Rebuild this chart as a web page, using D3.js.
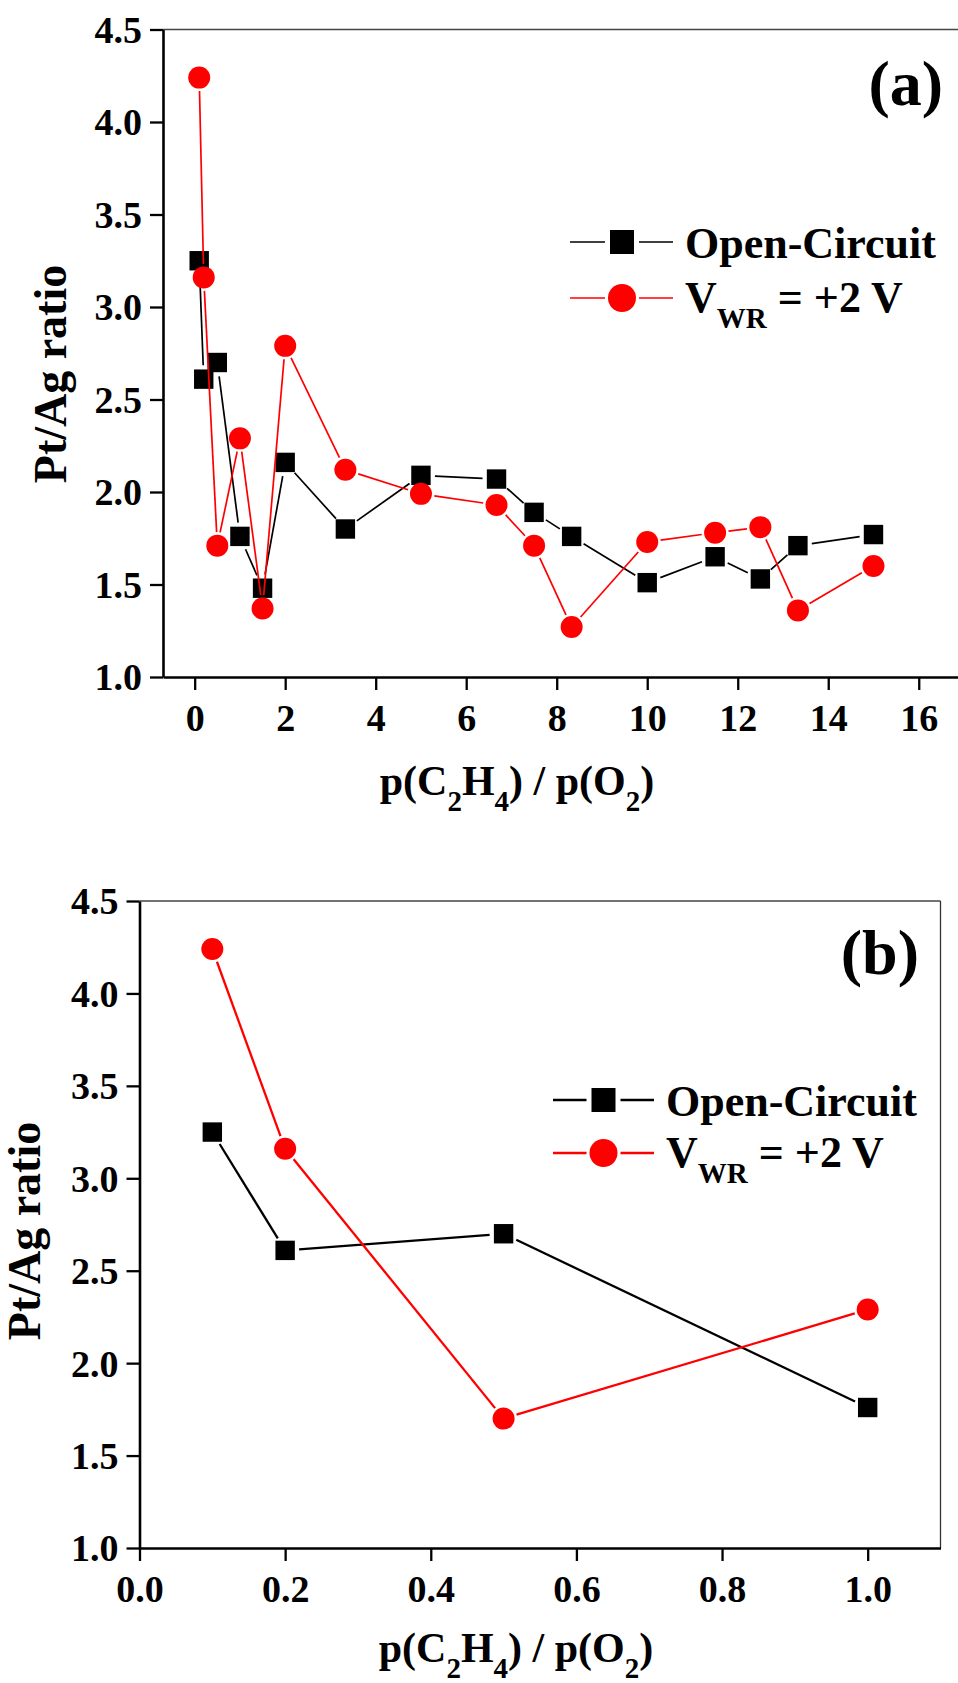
<!DOCTYPE html>
<html>
<head>
<meta charset="utf-8">
<script src="https://cdn.jsdelivr.net/npm/d3@7"></script>
<style>
  html, body { margin: 0; padding: 0; background: #fff; }
  svg { display: block; }
  text { font-family: "Liberation Serif", "Times New Roman", serif; font-weight: bold; fill: #000; }
</style>
</head>
<body>
<svg id="chart" width="958" height="1683"></svg>
<script>
// Pt/Ag surface ratio versus ethylene / oxygen partial pressure ratio
const ratioA = [0.1, 0.2, 0.5, 1, 1.5, 2, 3.33, 5, 6.67, 7.5, 8.33, 10, 11.5, 12.5, 13.33, 15];
const openCircuitA = [3.25, 2.61, 2.70, 1.76, 1.48, 2.16, 1.80, 2.09, 2.07, 1.89, 1.76, 1.51, 1.65, 1.53, 1.71, 1.77];
const polarizedA = [4.24, 3.16, 1.71, 2.29, 1.37, 2.79, 2.12, 1.99, 1.93, 1.71, 1.27, 1.73, 1.78, 1.81, 1.36, 1.60];

// low-ratio detail (panel b)
const ratioB = [0.1, 0.2, 0.5, 1.0];
const openCircuitB = [3.25, 2.61, 2.70, 1.76];
const polarizedB = [4.24, 3.16, 1.70, 2.29];

const yTicks = [1.0, 1.5, 2.0, 2.5, 3.0, 3.5, 4.0, 4.5];
const xTicksA = [0, 2, 4, 6, 8, 10, 12, 14, 16];
const xTicksB = [0.0, 0.2, 0.4, 0.6, 0.8, 1.0];

const svg = d3.select("#chart");

function drawPanel(cfg) {
  const g = svg.append("g");
  const x = d3.scaleLinear().domain(cfg.xDomain).range(cfg.xRange);
  const y = d3.scaleLinear().domain([1, 4.5]).range(cfg.yRange);
  const [x0, x1] = cfg.xRange;
  const [yb, yt] = cfg.yRange;

  // thin frame on top (and right when visible)
  g.append("line").attr("x1", x0).attr("x2", Math.min(x1, 958)).attr("y1", yt).attr("y2", yt)
    .attr("stroke", "#444").attr("stroke-width", 1.3);
  if (x1 <= 958) {
    g.append("line").attr("x1", x1).attr("x2", x1).attr("y1", yt).attr("y2", yb)
      .attr("stroke", "#333").attr("stroke-width", 1.3);
  }

  const xAxis = g.append("g").attr("transform", `translate(0,${yb})`)
    .call(d3.axisBottom(x).tickValues(cfg.xTicks).tickFormat(cfg.xFormat).tickSize(13).tickSizeOuter(0));
  const yAxis = g.append("g").attr("transform", `translate(${x0},0)`)
    .call(d3.axisLeft(y).tickValues(yTicks).tickFormat(d3.format(".1f")).tickSize(13).tickSizeOuter(0));

  [xAxis, yAxis].forEach(a => {
    a.select(".domain").attr("stroke", "#000").attr("stroke-width", 2.6);
    a.selectAll(".tick line").attr("stroke", "#000").attr("stroke-width", 2.3);
    a.selectAll(".tick text").attr("fill", "#000")
      .style("font-family", '"Liberation Serif", "Times New Roman", serif')
      .style("font-weight", "bold").style("font-size", "38px");
  });
  xAxis.selectAll(".tick text").attr("y", 54).attr("dy", 0);
  yAxis.selectAll(".tick text").attr("x", -21).attr("dy", "0.34em");

  // axis titles
  const xt = g.append("text").attr("x", cfg.xTitle[0]).attr("y", cfg.xTitle[1])
    .attr("text-anchor", "middle").style("font-size", "42px");
  xt.append("tspan").text("p(C");
  xt.append("tspan").text("2").style("font-size", "29px").attr("dy", 16);
  xt.append("tspan").text("H").attr("dy", -16);
  xt.append("tspan").text("4").style("font-size", "29px").attr("dy", 16);
  xt.append("tspan").text(") / p(O").attr("dy", -16);
  xt.append("tspan").text("2").style("font-size", "29px").attr("dy", 16);
  xt.append("tspan").text(")").attr("dy", -16);

  g.append("text").attr("transform", `translate(${cfg.yTitle[0]},${cfg.yTitle[1]}) rotate(-90)`)
    .attr("text-anchor", "middle").style("font-size", "46px").text("Pt/Ag ratio");

  // panel tag
  g.append("text").attr("x", cfg.tag[0]).attr("y", cfg.tag[1]).attr("text-anchor", "end")
    .style("font-size", "64px").text(cfg.tagText);

  // series: segments broken short of each marker
  function series(xs, ys, color, shape, gap) {
    const pts = xs.map((v, i) => [x(v), y(ys[i])]);
    for (let i = 0; i < pts.length - 1; i++) {
      const [ax, ay] = pts[i], [bx, by] = pts[i + 1];
      const dx = bx - ax, dy = by - ay, len = Math.hypot(dx, dy);
      if (len <= 2 * gap) continue;
      const ux = dx / len, uy = dy / len;
      g.append("line")
        .attr("x1", ax + ux * gap).attr("y1", ay + uy * gap)
        .attr("x2", bx - ux * gap).attr("y2", by - uy * gap)
        .attr("stroke", color).attr("stroke-width", cfg.lineWidth);
    }
    pts.forEach(([px, py]) => {
      if (shape === "square") {
        g.append("rect").attr("x", px - 9.7).attr("y", py - 9.7).attr("width", 19.4).attr("height", 19.4)
          .attr("fill", color);
      } else {
        g.append("circle").attr("cx", px).attr("cy", py).attr("r", 11).attr("fill", color);
      }
    });
  }
  series(cfg.xs, cfg.open, "#000", "square", 14);
  series(cfg.xs, cfg.pol, "#ff0000", "circle", 13.5);

  // legend
  const [lx0, lx1, lmx, ltx] = cfg.legendX;
  const [r1, r2] = cfg.legendY;
  [[r1, "#000", "square"], [r2, "#ff0000", "circle"]].forEach(([ry, color, shape]) => {
    g.append("line").attr("x1", lx0).attr("x2", lmx - 17).attr("y1", ry).attr("y2", ry)
      .attr("stroke", color).attr("stroke-width", cfg.lineWidth);
    g.append("line").attr("x1", lmx + 17).attr("x2", lx1).attr("y1", ry).attr("y2", ry)
      .attr("stroke", color).attr("stroke-width", cfg.lineWidth);
    if (shape === "square") {
      g.append("rect").attr("x", lmx - 12).attr("y", ry - 12).attr("width", 24).attr("height", 24).attr("fill", color);
    } else {
      g.append("circle").attr("cx", lmx).attr("cy", ry).attr("r", 14).attr("fill", color);
    }
  });
  g.append("text").attr("x", ltx).attr("y", r1 + 16).style("font-size", "44px").text("Open-Circuit");
  const vt = g.append("text").attr("x", ltx).attr("y", r2 + 14).style("font-size", "44px");
  vt.append("tspan").text("V");
  vt.append("tspan").text("WR").style("font-size", "29px").attr("dy", 16);
  vt.append("tspan").text(" = +2 V").attr("dy", -16);
}

drawPanel({
  xDomain: [-0.7, 17.0], xRange: [163, 964], yRange: [677, 29.5],
  xTicks: xTicksA, xFormat: d3.format("d"),
  xs: ratioA, open: openCircuitA, pol: polarizedA, lineWidth: 1.7,
  xTitle: [517, 795], yTitle: [66, 374],
  tag: [943, 105], tagText: "(a)",
  legendX: [570, 673, 622, 685], legendY: [242, 298]
});

drawPanel({
  xDomain: [0, 1.1], xRange: [139.5, 940.5], yRange: [1548, 901],
  xTicks: xTicksB, xFormat: d3.format(".1f"),
  xs: ratioB, open: openCircuitB, pol: polarizedB, lineWidth: 2.3,
  xTitle: [516, 1662], yTitle: [40, 1231],
  tag: [919, 974], tagText: "(b)",
  legendX: [553, 654, 603.5, 666], legendY: [1100, 1153]
});
</script>
</body>
</html>
